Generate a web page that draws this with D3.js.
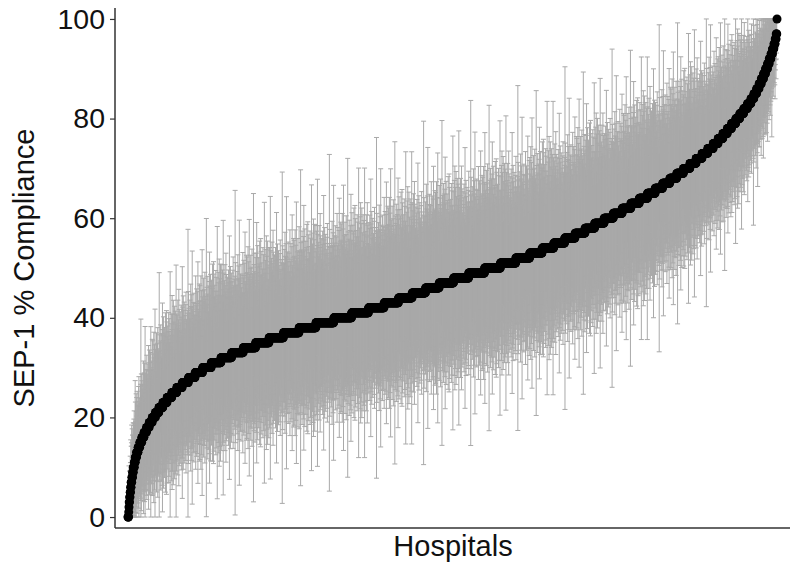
<!DOCTYPE html>
<html>
<head>
<meta charset="utf-8">
<script src="https://cdn.jsdelivr.net/npm/d3@7"></script>
<style>
  html, body { margin: 0; padding: 0; background: #fff; }
  svg { display: block; font-family: "Liberation Sans", Arial, Helvetica, sans-serif; }
</style>
</head>
<body>
<svg id="chart" width="800" height="567"></svg>
<script>
// ---- Data ----
// Compliance levels (rounded %) observed among hospitals
const complianceLevels = [
  0,1,2,3,4,5,6,7,8,9,10,11,12,13,14,15,16,17,18,19,
  20,21,22,23,24,25,26,27,28,29,30,31,32,33,34,35,36,37,38,39,
  40,41,42,43,44,45,46,47,48,49,50,51,52,53,54,55,56,57,58,59,
  60,61,62,63,64,65,66,67,68,69,70,71,72,73,74,75,76,77,78,79,
  80,81,82,83,84,85,86,87,88,89,90,91,92,93,94,95,96,97,98,99,100
];
// Number of hospitals at each compliance level (estimated from step widths)
const hospitalCounts = [
  3,1,1,2,2,2,2,3,3,3, 4,4,5,6,7,8,9,10,11,12,
  13,14,16,17,19,20,22,25,27,30, 35,39,43,47,50,54,58,63,68,72,
  72,68,63,58,55,54,55,58,61,64, 64,62,56,50,47,44,42,40,39,38,
  37,36,35,34,33,31,30,29,28,27, 26,25,24,23,22,20,19,18,17,17,
  16,16,15,14,12,11,10,9,9,8, 8,7,7,6,6,5,4,3,0,0,1
];
// Estimated case denominators (sample sizes) behind each hospital's 95% CI
const sampleSizes = [
  45,27,120,38,11,66,29,54,210,35,52,24,88,48,40,19,73,30,160,56,
  58,32,95,44,37,27,140,69,61,14,33,78,105,25,48,36,82,29,250,50,
  42,65,69,31,23,125,47,54,83,90,39,36,8,180,26,63,40,47,57,100,
  32,46,75,22,55,38,115,28,39,12,85,41,62,150,34,44,27,67,50,230,
  35,60,98,21,59,44,130,28,41,71,78,30,16,49,53,170,39,62,25,110,
  26,38,67,87,21,43,145,29,53,13,71,40,46,34,195,25,57,48,92,33,
  22,64,39,43,135,52,9,80,31,50,37,275,24,39,64,68,30,103,27,15,
  56,38,84,23,44,76,155,30,60,35,37,21,118,49,72,20,48,26,200,47,
  34,65,40,93,24,51,28,128,58,40,11,76,45,58,32,165,25,45,19,88,
  29,56,70,21,138,36,67,54,24,97
];
const yTicks = [0, 20, 40, 60, 80, 100];
const xTitle = "Hospitals";
const yTitle = "SEP-1 % Compliance";

// ---- Build hospital table from the arrays ----
const hospitals = [];
complianceLevels.forEach((lvl, k) => {
  for (let c = 0; c < hospitalCounts[k]; c++) hospitals.push({ pct: lvl });
});
const z = 1.96;
hospitals.forEach((h, i) => {
  h.idx = i;
  const n = sampleSizes[i % sampleSizes.length];
  const p = h.pct / 100;
  const hw = z * Math.sqrt(p * (1 - p) / n);   // normal-approximation 95% CI
  h.lo = Math.max(0, (p - hw) * 100);
  h.hi = Math.min(100, (p + hw) * 100);
});
const N = hospitals.length;

// ---- Layout ----
const svg = d3.select("#chart");
const panel = { left: 115, right: 790, top: 8, bottom: 528 };
const pad = (N - 1) * 0.02;
const x = d3.scaleLinear().domain([-pad, N - 1 + pad]).range([panel.left, panel.right]);
const y = d3.scaleLinear().domain([-2.2, 102.2]).range([panel.bottom, panel.top]);

// Error bars
const barColor = "#a9a9a9";
const capW = 2.5;
const eb = svg.append("g").attr("class", "errorbars")
  .attr("stroke", barColor).attr("stroke-width", 1).attr("fill", "none");
const path = d3.path();
hospitals.forEach(h => {
  const cx = x(h.idx);
  path.moveTo(cx, y(h.lo)); path.lineTo(cx, y(h.hi));
  path.moveTo(cx - capW, y(h.lo)); path.lineTo(cx + capW, y(h.lo));
  path.moveTo(cx - capW, y(h.hi)); path.lineTo(cx + capW, y(h.hi));
});
eb.append("path").attr("d", path.toString());

// Points
svg.append("g").attr("class", "points")
  .selectAll("circle").data(hospitals).join("circle")
  .attr("cx", d => x(d.idx))
  .attr("cy", d => y(d.pct))
  .attr("r", 4.5)
  .attr("fill", "#000");

// Axes
const yAxis = d3.axisLeft(y).tickValues(yTicks).tickSize(5).tickPadding(5);
const gy = svg.append("g").attr("transform", `translate(${panel.left},0)`).call(yAxis);
gy.select(".domain").remove();
gy.selectAll(".tick line").attr("stroke", "#333").attr("stroke-width", 1.2);
gy.selectAll(".tick text").attr("fill", "#111").style("font-size", "28.5px")
  .style("font-family", "'Liberation Sans', Arial, sans-serif");

svg.append("line")
  .attr("x1", panel.left).attr("x2", panel.left)
  .attr("y1", panel.top).attr("y2", panel.bottom)
  .attr("stroke", "#333").attr("stroke-width", 1.5);
svg.append("line")
  .attr("x1", panel.left).attr("x2", panel.right)
  .attr("y1", panel.bottom).attr("y2", panel.bottom)
  .attr("stroke", "#333").attr("stroke-width", 1.5);

// Titles
svg.append("text")
  .attr("x", 453).attr("y", 556)
  .attr("text-anchor", "middle").style("font-size", "29px").attr("fill", "#111")
  .text(xTitle);
svg.append("text")
  .attr("transform", `translate(34,${(panel.top + panel.bottom) / 2}) rotate(-90)`)
  .attr("text-anchor", "middle").style("font-size", "29px").attr("fill", "#111")
  .text(yTitle);
</script>
</body>
</html>
